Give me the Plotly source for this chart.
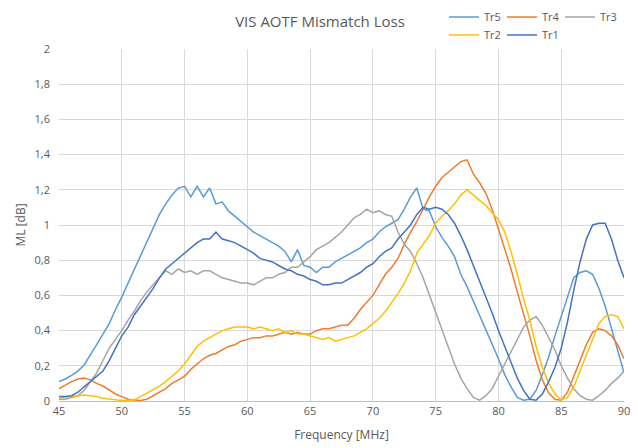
import numpy as np
import plotly.graph_objects as go

freq = [45 + 0.5 * i for i in range(91)]

tr5 = [0.11, 0.125, 0.145, 0.17, 0.205, 0.26, 0.32, 0.38, 0.44, 0.52,
       0.59, 0.67, 0.75, 0.83, 0.90, 0.99, 1.06, 1.12, 1.17, 1.21,
       1.22, 1.16, 1.22, 1.16, 1.21, 1.12, 1.13, 1.08, 1.05, 1.02,
       0.99, 0.96, 0.94, 0.92, 0.90, 0.88, 0.85, 0.79, 0.86, 0.77,
       0.76, 0.73, 0.76, 0.76, 0.79, 0.81, 0.83, 0.85, 0.87, 0.90,
       0.92, 0.96, 0.99, 1.01, 1.03, 1.09, 1.16, 1.21, 1.09, 1.08,
       0.99, 0.93, 0.88, 0.82, 0.72, 0.65, 0.57, 0.48, 0.41, 0.33,
       0.24, 0.15, 0.08, 0.02, 0.005, 0.01, 0.06, 0.15, 0.25, 0.37,
       0.48, 0.60, 0.70, 0.73, 0.74, 0.72, 0.64, 0.54, 0.41, 0.29,
       0.16]

tr4 = [0.07, 0.09, 0.11, 0.125, 0.13, 0.12, 0.10, 0.085, 0.06, 0.04,
       0.025, 0.01, 0.005, 0.003, 0.01, 0.03, 0.05, 0.07, 0.10, 0.12,
       0.14, 0.18, 0.21, 0.24, 0.26, 0.27, 0.29, 0.31, 0.32, 0.34,
       0.35, 0.36, 0.36, 0.37, 0.37, 0.38, 0.39, 0.38, 0.39, 0.38,
       0.38, 0.40, 0.41, 0.41, 0.42, 0.43, 0.43, 0.47, 0.52, 0.56,
       0.60, 0.66, 0.72, 0.76, 0.81, 0.89, 0.96, 1.02, 1.09, 1.16,
       1.22, 1.27, 1.30, 1.33, 1.36, 1.37, 1.29, 1.24, 1.18, 1.09,
       0.98, 0.86, 0.75, 0.62, 0.50, 0.37, 0.23, 0.12, 0.045, 0.01,
       0.005, 0.05, 0.14, 0.23, 0.32, 0.39, 0.41, 0.40, 0.37, 0.32,
       0.24]

tr3 = [0.01, 0.01, 0.02, 0.03, 0.06, 0.11, 0.16, 0.23, 0.30, 0.35,
       0.40, 0.46, 0.51, 0.57, 0.62, 0.66, 0.70, 0.74, 0.72, 0.75,
       0.73, 0.74, 0.72, 0.74, 0.74, 0.72, 0.70, 0.69, 0.68, 0.67,
       0.67, 0.66, 0.68, 0.70, 0.70, 0.72, 0.73, 0.76, 0.76, 0.79,
       0.82, 0.86, 0.88, 0.90, 0.93, 0.96, 1.00, 1.04, 1.06, 1.09,
       1.07, 1.08, 1.06, 1.05, 0.96, 0.89, 0.85, 0.78, 0.70, 0.60,
       0.50, 0.40, 0.30, 0.21, 0.13, 0.07, 0.02, 0.005, 0.03, 0.07,
       0.14, 0.21, 0.28, 0.35, 0.42, 0.46, 0.48, 0.43, 0.36, 0.29,
       0.20, 0.13, 0.07, 0.03, 0.01, 0.005, 0.03, 0.06, 0.10, 0.13,
       0.17]

tr2 = [0.015, 0.02, 0.025, 0.03, 0.034, 0.03, 0.025, 0.015, 0.01, 0.005,
       0.003, 0.003, 0.008, 0.025, 0.045, 0.065, 0.085, 0.11, 0.14, 0.17,
       0.21, 0.26, 0.31, 0.34, 0.36, 0.38, 0.40, 0.41, 0.42, 0.42,
       0.42, 0.41, 0.42, 0.41, 0.40, 0.41, 0.39, 0.40, 0.38, 0.38,
       0.37, 0.36, 0.35, 0.36, 0.34, 0.35, 0.36, 0.37, 0.39, 0.41,
       0.44, 0.47, 0.51, 0.56, 0.61, 0.67, 0.74, 0.84, 0.89, 0.94,
       1.01, 1.05, 1.08, 1.12, 1.17, 1.20, 1.17, 1.14, 1.11, 1.07,
       1.03, 0.96, 0.85, 0.72, 0.58, 0.46, 0.31, 0.19, 0.10, 0.04,
       0.005, 0.02, 0.08, 0.17, 0.26, 0.36, 0.44, 0.48, 0.49, 0.48,
       0.41]

tr1 = [0.025, 0.025, 0.03, 0.05, 0.08, 0.11, 0.14, 0.17, 0.23, 0.30,
       0.37, 0.42, 0.49, 0.54, 0.59, 0.64, 0.70, 0.75, 0.78, 0.81,
       0.84, 0.87, 0.90, 0.92, 0.92, 0.96, 0.92, 0.91, 0.90, 0.88,
       0.86, 0.84, 0.81, 0.80, 0.79, 0.77, 0.75, 0.74, 0.72, 0.71,
       0.69, 0.68, 0.66, 0.66, 0.67, 0.67, 0.69, 0.71, 0.73, 0.76,
       0.78, 0.82, 0.85, 0.87, 0.92, 0.96, 1.00, 1.06, 1.10, 1.09,
       1.10, 1.09, 1.06, 1.01, 0.94, 0.86, 0.77, 0.69, 0.59, 0.50,
       0.40, 0.31, 0.21, 0.13, 0.06, 0.01, 0.005, 0.04, 0.11, 0.19,
       0.30, 0.45, 0.63, 0.79, 0.92, 1.00, 1.01, 1.01, 0.92, 0.80,
       0.70]

series_names = ["Tr5", "Tr4", "Tr3", "Tr2", "Tr1"]
series_values = [tr5, tr4, tr3, tr2, tr1]
series_colors = ["#5B9BD5", "#ED7D31", "#A5A5A5", "#FFC000", "#4472C4"]
series_legend = ["legend", "legend", "legend", "legend2", "legend2"]

x_ticks = list(range(45, 91, 5))
y_ticks = [0, 0.2, 0.4, 0.6, 0.8, 1, 1.2, 1.4, 1.6, 1.8, 2]
y_tick_labels = ["0", "0,2", "0,4", "0,6", "0,8", "1", "1,2", "1,4", "1,6", "1,8", "2"]

FONT = "Open Sans"
TXT = "#595959"

fig = go.Figure()
for name, vals, col, lg in zip(series_names, series_values, series_colors, series_legend):
    fig.add_trace(go.Scatter(x=freq, y=vals, mode="lines", name=name,
                             line=dict(color=col, width=1.5), legend=lg))

legend_common = dict(orientation="h", font=dict(family=FONT, size=11, color=TXT),
                     bgcolor="rgba(0,0,0,0)", entrywidth=13, entrywidthmode="pixels",
                     xref="container", yref="container",
                     xanchor="left", yanchor="middle", traceorder="normal",
                     itemwidth=30, tracegroupgap=0)

fig.update_layout(
    width=638, height=448,
    margin=dict(l=59, r=14, t=49, b=47, autoexpand=False),
    paper_bgcolor="white", plot_bgcolor="white",
    separators=",.",
    title=dict(text="VIS AOTF Mismatch Loss", x=320 / 638, xref="container", xanchor="center",
               y=1 - 22 / 448, yref="container", yanchor="middle",
               font=dict(family=FONT, size=15, color=TXT)),
    legend=dict(x=444 / 638, y=1 - 17 / 448, **legend_common),
    legend2=dict(x=444 / 638, y=1 - 35 / 448, **legend_common),
    xaxis=dict(range=[45, 90], tickvals=x_ticks, showgrid=True, gridcolor="#D9D9D9",
               gridwidth=1, zeroline=False, showline=True, linecolor="#BFBFBF",
               ticks="", automargin=False, tickfont=dict(family=FONT, size=11, color=TXT),
               title=dict(text="Frequency [MHz]", standoff=13,
                          font=dict(family=FONT, size=12, color=TXT))),
    yaxis=dict(range=[0, 2], tickvals=y_ticks, ticktext=y_tick_labels, showgrid=True,
               gridcolor="#D9D9D9", gridwidth=1, zeroline=False, showline=False,
               ticks="", ticklabelstandoff=8, automargin=False,
               tickfont=dict(family=FONT, size=11, color=TXT),
               title=dict(text="ML [dB]", standoff=6,
                          font=dict(family=FONT, size=12, color=TXT))),
)

fig.write_html("out.html", config={"displayModeBar": False},
               post_script="document.body.style.margin='0';document.body.style.padding='0';")
